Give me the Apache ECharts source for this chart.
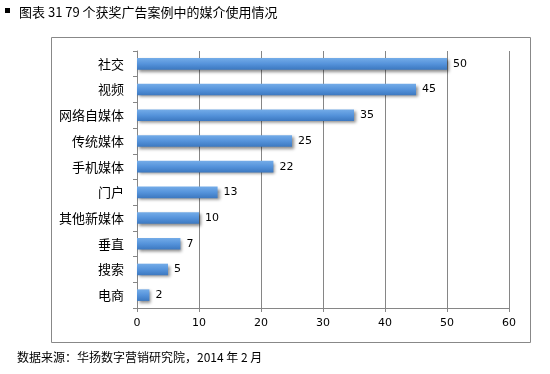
<!DOCTYPE html>
<html>
<head>
<meta charset="utf-8">
<script src="https://cdn.jsdelivr.net/npm/echarts@6/dist/echarts.min.js"></script>
<style>
html,body{margin:0;padding:0;background:#fff;}
#chart{width:550px;height:374px;}
</style>
</head>
<body>
<div id="chart"></div>
<script>
var categories = ['社交','视频','网络自媒体','传统媒体','手机媒体','门户','其他新媒体','垂直','搜索','电商'];
var values = [50,45,35,25,22,13,10,7,5,2];
var xTicks = [0,10,20,30,40,50,60];

var chart = echarts.init(document.getElementById('chart'), null, {renderer:'canvas'});
var cjk = '"Noto Sans CJK SC", sans-serif';
var num = '"DejaVu Sans", Verdana, sans-serif';
chart.setOption({
  animation:false,
  backgroundColor:'#ffffff',
  title:[
    {text:'图表 31 79 个获奖广告案例中的媒介使用情况', left:14, top:1, textStyle:{fontSize:13, fontWeight:'normal', color:'#000', fontFamily:cjk}},
    {text:'数据来源：华扬数字营销研究院，2014 年 2 月', left:12, top:346, textStyle:{fontSize:12, fontWeight:'normal', color:'#000', fontFamily:cjk}}
  ],
  graphic:[
    {type:'rect', shape:{x:5, y:8, width:5, height:5}, style:{fill:'#000'}, silent:true},
    {type:'rect', shape:{x:51.5, y:37.5, width:479, height:305}, style:{fill:'none', stroke:'#888888', lineWidth:1}, silent:true}
  ],
  grid:{left:137, right:41, top:51, bottom:66, containLabel:false},
  xAxis:{
    type:'value', min:0, max:60, interval:10,
    axisLine:{show:true, lineStyle:{color:'#868686'}},
    axisTick:{show:true, length:4, lineStyle:{color:'#868686'}},
    axisLabel:{color:'#000', fontSize:11, fontFamily:num, margin:10,
      formatter:function(v){return xTicks.indexOf(v)>=0 ? String(v) : '';}},
    splitLine:{show:true, lineStyle:{color:'#868686', width:1}}
  },
  yAxis:{
    type:'category', data:categories, inverse:true,
    axisLine:{show:true, lineStyle:{color:'#868686'}},
    axisTick:{show:true, length:4, lineStyle:{color:'#868686'}},
    axisLabel:{color:'#000', fontSize:13, fontFamily:cjk, margin:13}
  },
  series:[{
    type:'bar', data:values, barWidth:'45%',
    itemStyle:{
      color:new echarts.graphic.LinearGradient(0,0,0,1,[
        {offset:0, color:'#74ace8'},
        {offset:0.5, color:'#5593db'},
        {offset:1, color:'#3c78c0'}
      ]),
      shadowColor:'rgba(0,0,0,0.45)', shadowBlur:3, shadowOffsetX:2, shadowOffsetY:2
    },
    label:{show:true, position:'right', distance:6, color:'#000', fontSize:11, fontFamily:num}
  }]
});
</script>
</body>
</html>
